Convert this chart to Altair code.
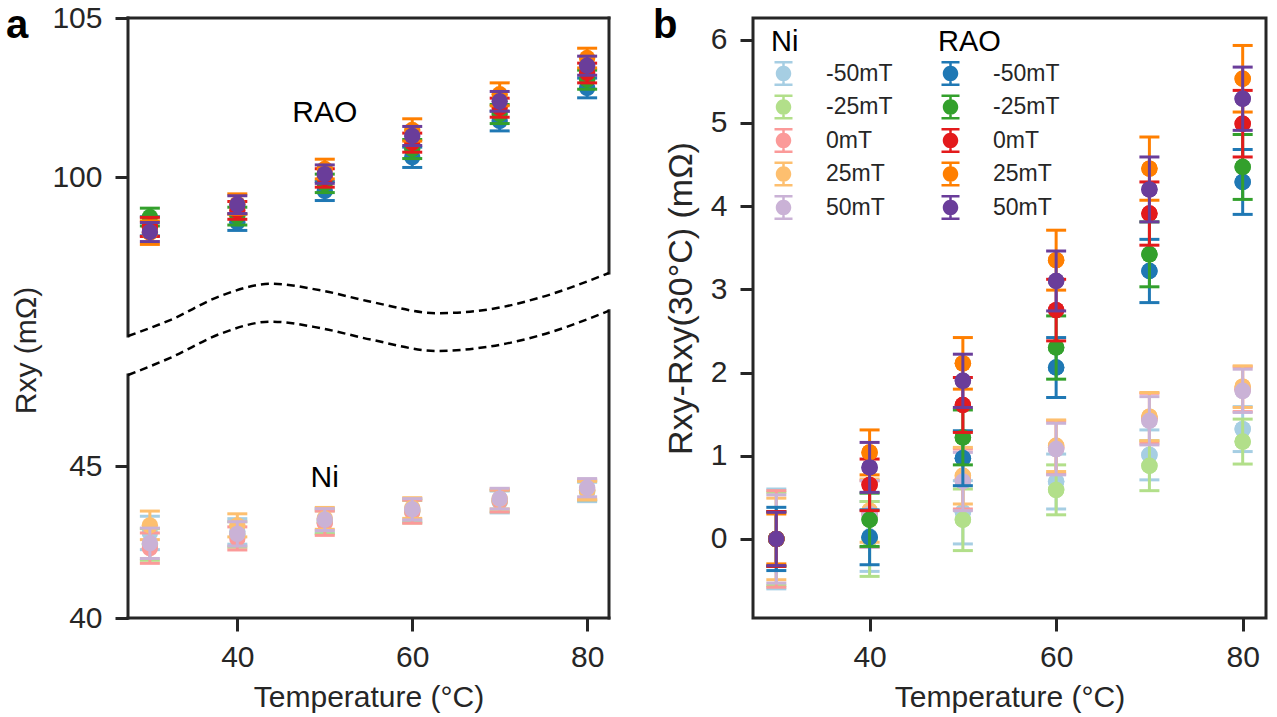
import altair as alt
import pandas as pd

FONT = "Liberation Sans"
INK = "#262626"

# ---------------- data ----------------
TEMPS = [30, 40, 50, 60, 70, 80]
FIELDS = ["-50mT", "-25mT", "0mT", "25mT", "50mT"]
NI_COLORS = ["#a6cee3", "#b2df8a", "#fb9a99", "#fdbf6f", "#cab2d6"]
RAO_COLORS = ["#1f78b4", "#33a02c", "#e31a1c", "#ff7f00", "#6a3d9a"]

# panel a : absolute Rxy (mOhm), rows follow FIELDS
A_NI_VALUES = [
    [42.80, 42.85, 43.20, 43.55, 43.82, 44.15],
    [42.42, 42.75, 43.15, 43.50, 43.85, 44.20],
    [42.30, 42.62, 43.12, 43.50, 43.85, 44.22],
    [43.05, 43.05, 43.28, 43.62, 43.92, 44.20],
    [42.46, 42.77, 43.24, 43.58, 43.93, 44.29],
]
A_NI_ERRORS = [
    [0.55, 0.42, 0.40, 0.38, 0.36, 0.32],
    [0.52, 0.42, 0.38, 0.37, 0.35, 0.32],
    [0.50, 0.38, 0.40, 0.38, 0.36, 0.33],
    [0.47, 0.38, 0.36, 0.34, 0.33, 0.30],
    [0.50, 0.40, 0.36, 0.35, 0.34, 0.30],
]
A_RAO_VALUES = [
    [98.45, 98.58, 99.56, 100.62, 101.76, 102.80],
    [98.74, 98.77, 99.80, 100.88, 101.98, 103.06],
    [98.43, 98.95, 99.97, 101.08, 102.18, 103.27],
    [98.25, 99.15, 100.25, 101.48, 102.60, 103.74],
    [98.27, 99.13, 100.09, 101.29, 102.38, 103.50],
]
A_RAO_ERRORS = [
    [0.30, 0.26, 0.30, 0.32, 0.31, 0.31],
    [0.28, 0.28, 0.29, 0.30, 0.30, 0.30],
    [0.30, 0.28, 0.29, 0.30, 0.30, 0.31],
    [0.37, 0.32, 0.31, 0.35, 0.36, 0.31],
    [0.30, 0.28, 0.29, 0.30, 0.31, 0.30],
]

# panel b : Rxy - Rxy(30 C) (mOhm)
B_NI_VALUES = [
    [0.0, 0.03, 0.32, 0.69, 1.01, 1.32],
    [0.0, 0.00, 0.23, 0.59, 0.88, 1.17],
    [0.0, 0.30, 0.72, 1.10, 1.45, 1.80],
    [0.0, 0.34, 0.76, 1.12, 1.47, 1.83],
    [0.0, 0.30, 0.69, 1.08, 1.42, 1.78],
]
B_NI_ERRORS = [
    [0.60, 0.42, 0.38, 0.33, 0.30, 0.27],
    [0.56, 0.45, 0.37, 0.30, 0.30, 0.27],
    [0.58, 0.40, 0.36, 0.32, 0.30, 0.27],
    [0.49, 0.38, 0.34, 0.31, 0.29, 0.25],
    [0.53, 0.40, 0.35, 0.31, 0.29, 0.26],
]
B_RAO_VALUES = [
    [0.0, 0.02, 0.97, 2.06, 3.22, 4.29],
    [0.0, 0.23, 1.22, 2.30, 3.42, 4.47],
    [0.0, 0.65, 1.61, 2.75, 3.91, 4.99],
    [0.0, 1.04, 2.11, 3.35, 4.45, 5.53],
    [0.0, 0.86, 1.90, 3.10, 4.20, 5.29],
]
B_RAO_ERRORS = [
    [0.38, 0.33, 0.33, 0.36, 0.38, 0.39],
    [0.33, 0.32, 0.33, 0.38, 0.39, 0.39],
    [0.33, 0.31, 0.33, 0.37, 0.38, 0.40],
    [0.30, 0.27, 0.31, 0.36, 0.38, 0.40],
    [0.32, 0.30, 0.32, 0.36, 0.39, 0.38],
]

# annotations of panel a (data units)
A_LABELS = ["RAO", "Ni"]
A_LABEL_T = [50, 50]
A_LABEL_Y = [102.0, 44.6]

# axes
X_DOMAIN = [27.5, 82.5]
X_TICKS = [40, 60, 80]
A_Y_BREAKS = [40, 48, 95, 105]        # lower part 40-48, upper part 95-105
A_Y_TICKS = [40, 45, 100, 105]
A_LOWER_TOP = 0.405                    # fraction of height where lower part ends
A_UPPER_BOTTOM = 0.47                  # fraction of height where upper part starts
B_Y_DOMAIN = [-0.95, 6.26]
B_Y_TICKS = [0, 1, 2, 3, 4, 5, 6]

# broken-axis decoration of panel a (fractions of the plot box)
SPINE_X = [0, 0, 0, 0, 1, 1]
SPINE_X2 = [1, 1, 0, 0, 1, 1]
SPINE_Y = [1, 0, A_UPPER_BOTTOM, 0, 0.575, 0]
SPINE_Y2 = [1, 0, 1, A_LOWER_TOP, 1, 0.512]
WAVE_X = [0, 0.089, 0.193, 0.297, 0.401, 0.505, 0.644, 0.748, 0.852, 1.0]
WAVE_UPPER = [0.470, 0.497, 0.537, 0.557, 0.546, 0.527, 0.508, 0.514, 0.533, 0.575]
WAVE_LOWER = [0.405, 0.434, 0.474, 0.494, 0.483, 0.464, 0.445, 0.452, 0.470, 0.512]

W_A, W_B, H = 481, 513, 600

# ---------------- helpers ----------------
def make_df(values, errors, group):
    rows = []
    for f, vals, errs in zip(FIELDS, values, errors):
        for t, v, e in zip(TEMPS, vals, errs):
            rows.append({"T": t, "field": f, "key": group + f, "value": v,
                         "lo": v - e, "hi": v + e})
    return pd.DataFrame(rows)


x_scale = alt.Scale(domain=X_DOMAIN, nice=False, zero=False)
x_axis = alt.Axis(values=X_TICKS, title="Temperature (°C)", labelPadding=11,
                  titlePadding=10)

ya_scale = alt.Scale(domain=A_Y_BREAKS,
                     range=[H, H * (1 - A_LOWER_TOP), H * (1 - A_UPPER_BOTTOM), 0],
                     nice=False, zero=False)
ya_axis = alt.Axis(values=A_Y_TICKS, title="Rxy (mΩ)", labelPadding=13,
                   titlePadding=10, titleY=332)
yb_scale = alt.Scale(domain=B_Y_DOMAIN, nice=False, zero=False)
yb_axis = alt.Axis(values=B_Y_TICKS, title="Rxy-Rxy(30°C) (mΩ)", labelPadding=13,
                   titlePadding=12, titleFontSize=34, titleY=280)


def X(f):
    return alt.X(f + ":Q", scale=x_scale, axis=x_axis)


def series(df, key, color, ys, ya):
    base = alt.Chart(df).transform_filter(alt.datum.key == key)
    Y = lambda f: alt.Y(f + ":Q", scale=ys, axis=ya)
    stem = base.mark_rule(color=color, strokeWidth=3).encode(
        x=X("T"), y=Y("lo"), y2="hi:Q")
    caps = base.transform_fold(["lo", "hi"], as_=["end", "yv"]).mark_rule(
        color=color, strokeWidth=3, xOffset=-10, x2Offset=10).encode(
        x=X("T"), x2="T:Q", y=Y("yv"))
    pt = base.mark_circle(color=color, size=270, opacity=1).encode(
        x=X("T"), y=Y("value"))
    return [stem, caps, pt]


SYMBOL = ("M-0.72,-1H0.72V-0.8H-0.72Z M-0.72,0.8H0.72V1H-0.72Z "
          "M-0.1,-0.8H0.1V-0.55H-0.1Z M-0.1,0.55H0.1V0.8H-0.1Z "
          "M-0.62,0A0.62,0.62,0,1,1,0.62,0A0.62,0.62,0,1,1,-0.62,0Z")


def legend_layer(df, title, colors, lx):
    leg = alt.Legend(title=title, orient="none", legendX=lx, legendY=10,
                     titleFont=FONT, titleFontSize=29, titleFontWeight="normal",
                     titleColor="black", titlePadding=4, labelFont=FONT,
                     labelFontSize=23, labelColor=INK, labelOffset=30,
                     rowPadding=8.5, symbolSize=625, symbolType=SYMBOL,
                     symbolStrokeWidth=0, padding=0)
    return alt.Chart(df).mark_circle(size=270, opacity=1).encode(
        x=X("T"), y=alt.Y("value:Q", scale=yb_scale, axis=yb_axis),
        color=alt.Color("field:N", scale=alt.Scale(domain=FIELDS, range=colors),
                        sort=FIELDS, legend=leg))


def panel_label(txt, dx):
    return alt.Chart(pd.DataFrame({"label": [txt]})).mark_text(
        font=FONT, fontSize=40, fontWeight="bold", align="left",
        baseline="alphabetic", color="black").encode(
        text="label:N", x=alt.value(dx), y=alt.value(20))


# ---------------- panel a ----------------
a_ni = make_df(A_NI_VALUES, A_NI_ERRORS, "Ni")
a_rao = make_df(A_RAO_VALUES, A_RAO_ERRORS, "RAO")
a_layers = []
for f, c in zip(FIELDS, NI_COLORS):
    a_layers += series(a_ni, "Ni" + f, c, ya_scale, ya_axis)
for f, c in zip(FIELDS, RAO_COLORS):
    a_layers += series(a_rao, "RAO" + f, c, ya_scale, ya_axis)

ann = pd.DataFrame({"T": A_LABEL_T, "y": A_LABEL_Y, "label": A_LABELS})
a_layers.append(alt.Chart(ann).mark_text(font=FONT, fontSize=30, color="black",
                                         baseline="middle").encode(
    x=X("T"), y=alt.Y("y:Q", scale=ya_scale, axis=ya_axis), text="label:N"))
a_data = alt.layer(*a_layers)

fx = alt.Scale(domain=[0, 1], nice=False, zero=False)
spines = pd.DataFrame({"x": SPINE_X, "x2": SPINE_X2, "y": SPINE_Y, "y2": SPINE_Y2})
waves = pd.DataFrame({
    "x": WAVE_X + WAVE_X,
    "y": WAVE_UPPER + WAVE_LOWER,
    "line": ["upper"] * len(WAVE_X) + ["lower"] * len(WAVE_X),
})
spine_layer = alt.Chart(spines).mark_rule(color=INK, strokeWidth=3,
                                          strokeCap="square").encode(
    x=alt.X("x:Q", scale=fx, axis=None), x2="x2:Q",
    y=alt.Y("y:Q", scale=fx, axis=None), y2="y2:Q")
wave_layer = alt.Chart(waves).mark_line(color="black", strokeWidth=2.5,
                                        strokeDash=[8, 5],
                                        interpolate="monotone").encode(
    x=alt.X("x:Q", scale=fx, axis=None), y=alt.Y("y:Q", scale=fx, axis=None),
    detail="line:N")
a_decor = alt.layer(spine_layer, wave_layer, panel_label("a", -122))

panel_a = alt.layer(a_data, a_decor).resolve_scale(
    x="independent", y="independent").properties(
    width=W_A, height=H, view=alt.ViewBackground(stroke="transparent"))

# ---------------- panel b ----------------
b_ni = make_df(B_NI_VALUES, B_NI_ERRORS, "Ni")
b_rao = make_df(B_RAO_VALUES, B_RAO_ERRORS, "RAO")
ni_layers = [legend_layer(b_ni, "Ni", NI_COLORS, 18)]
for f, c in zip(FIELDS, NI_COLORS):
    ni_layers += series(b_ni, "Ni" + f, c, yb_scale, yb_axis)
rao_layers = [legend_layer(b_rao, "RAO", RAO_COLORS, 185)]
for f, c in zip(FIELDS, RAO_COLORS):
    rao_layers += series(b_rao, "RAO" + f, c, yb_scale, yb_axis)

panel_b = alt.layer(alt.layer(*ni_layers), alt.layer(*rao_layers),
                    panel_label("b", -100)).resolve_scale(
    color="independent").properties(width=W_B, height=H)

chart = alt.hconcat(panel_a, panel_b, spacing=35).resolve_scale(
    color="independent").properties(
    padding={"left": 4, "top": 1, "right": 0, "bottom": 0}).configure_axis(
    labelFont=FONT, labelFontSize=30, labelColor=INK, titleFont=FONT,
    titleFontSize=30, titleFontWeight="normal", titleColor=INK, tickSize=13,
    tickWidth=3, tickColor=INK, domain=False, grid=False).configure_view(
    stroke=INK, strokeWidth=3)

chart.save("out.html", embed_options={"renderer": "svg", "actions": False})
